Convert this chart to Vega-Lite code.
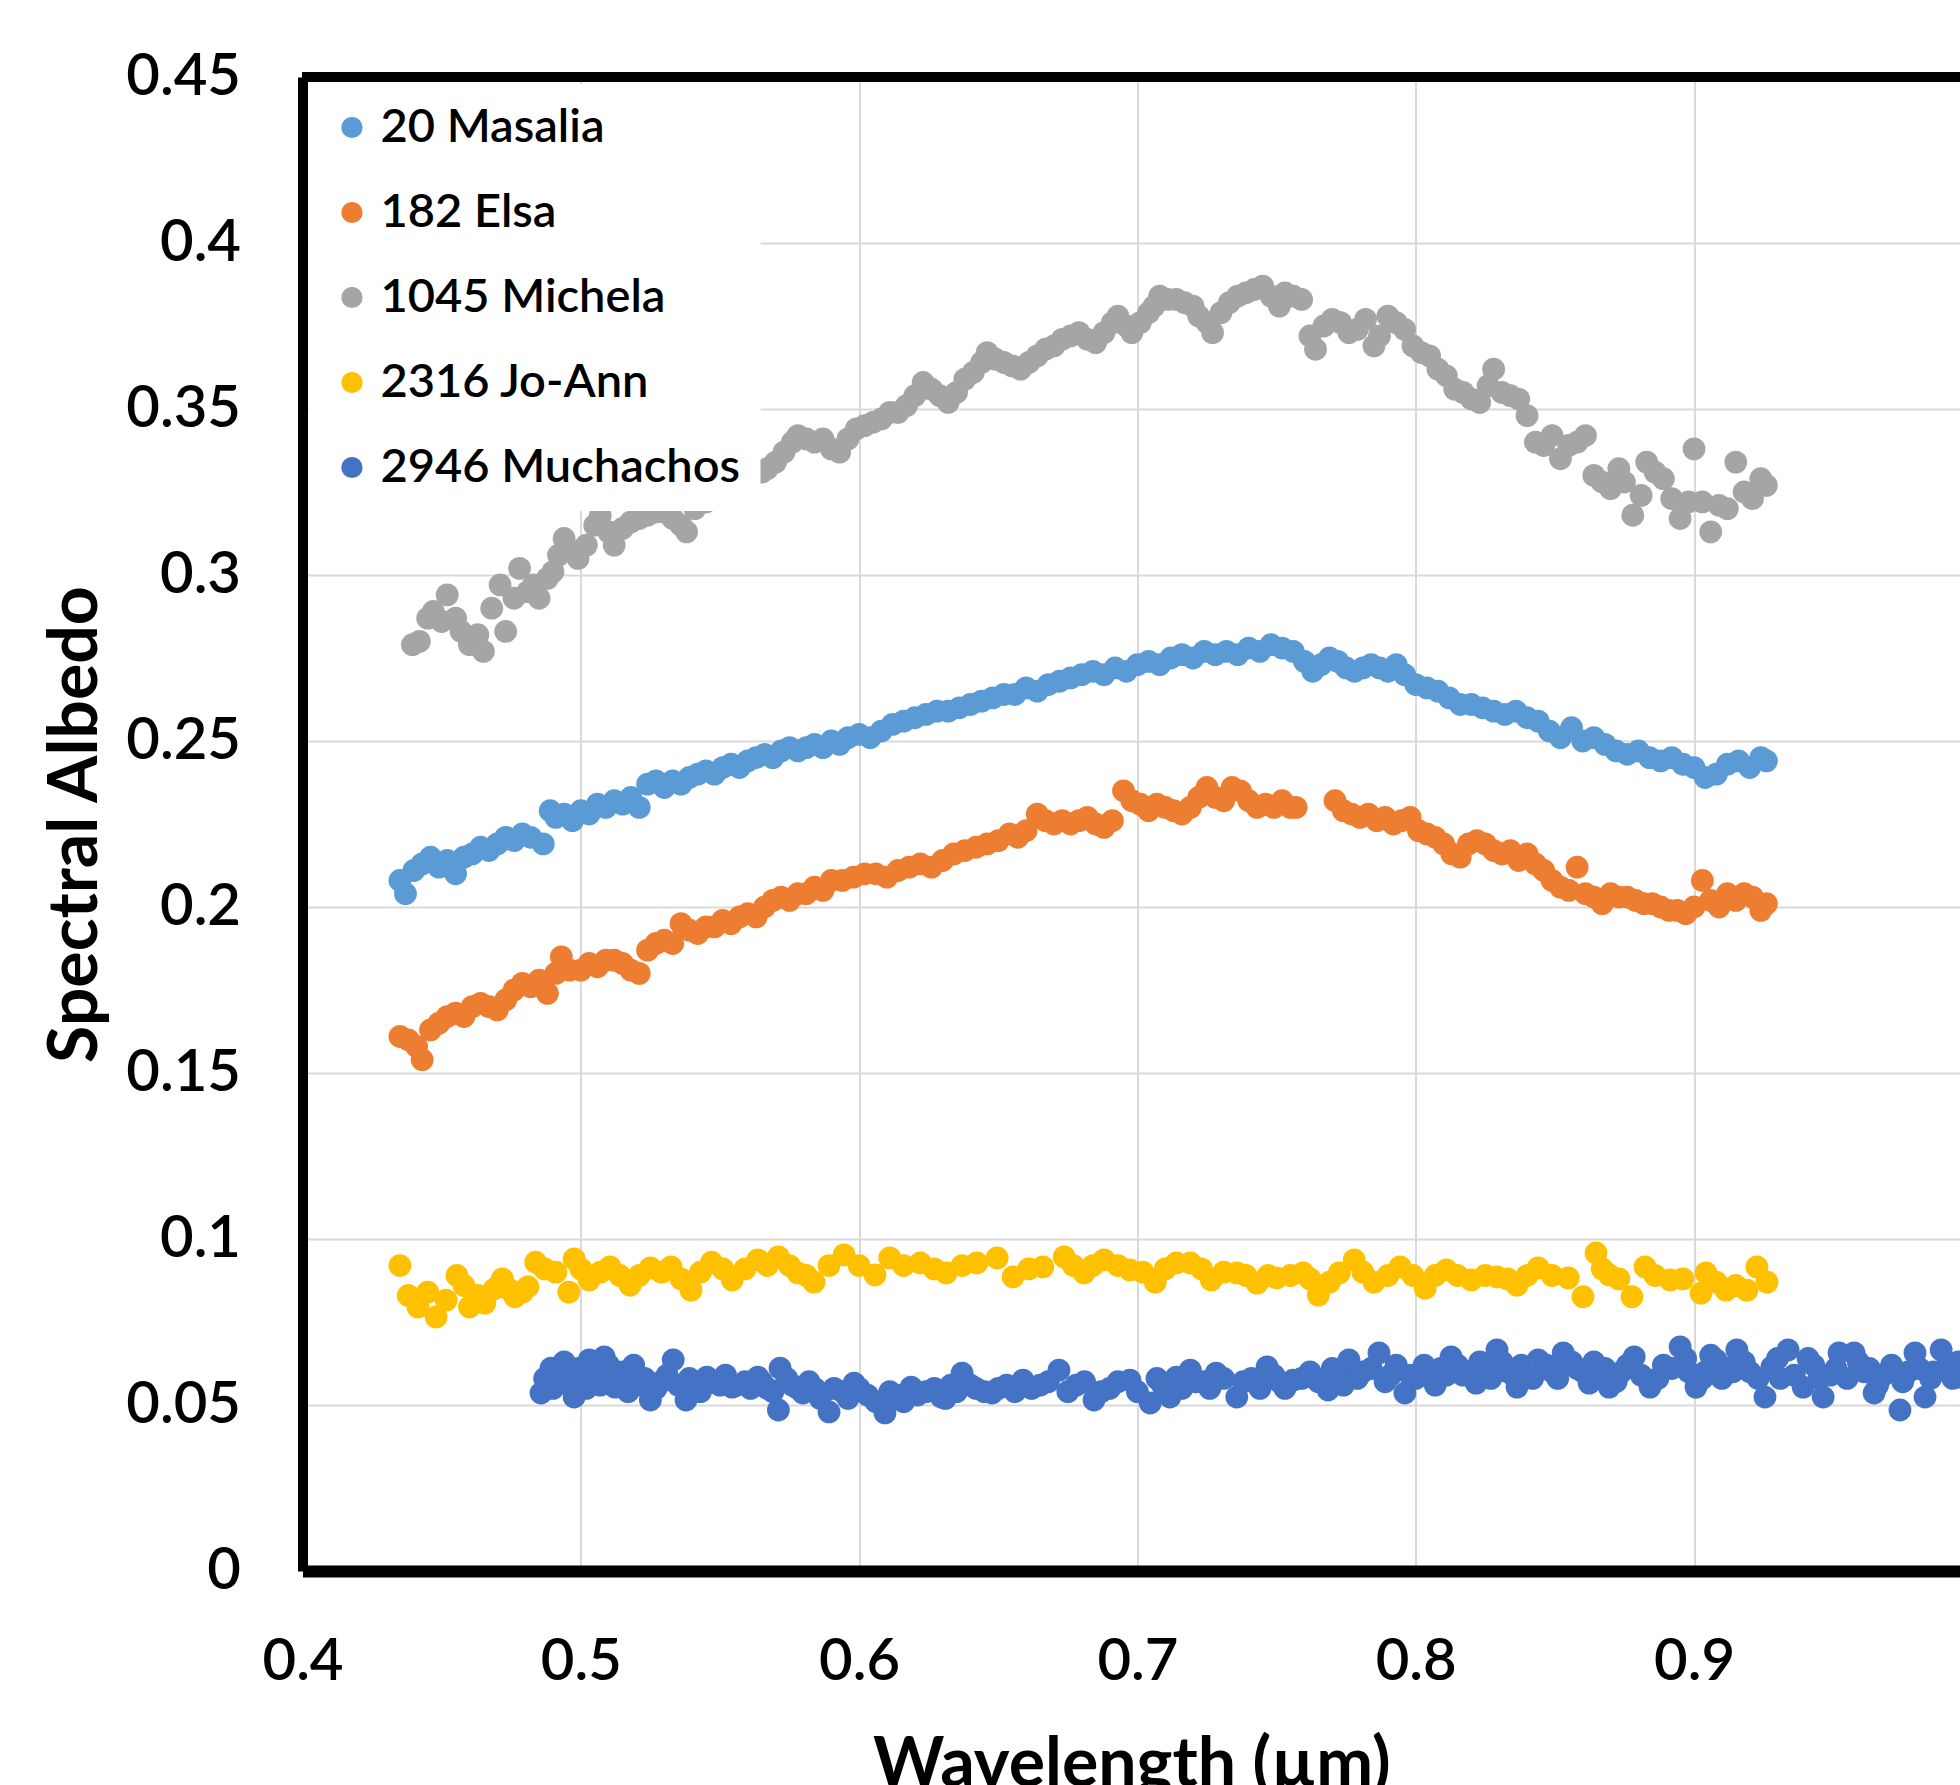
{
  "$schema": "https://vega.github.io/schema/vega-lite/v6.json",
  "autosize": {"type": "none"},
  "padding": {"left": 302.5, "top": 77, "right": 0, "bottom": 214},
  "width": 1657.5,
  "height": 1494,
  "background": "white",
  "data": {"values": [
{"s":"20 Masalia","x":0.435,"y":0.208},{"s":"20 Masalia","x":0.437,"y":0.204},{"s":"20 Masalia","x":0.440,"y":0.211},{"s":"20 Masalia","x":0.443,"y":0.213},{"s":"20 Masalia","x":0.446,"y":0.215},{"s":"20 Masalia","x":0.449,"y":0.212},{"s":"20 Masalia","x":0.452,"y":0.214},{"s":"20 Masalia","x":0.455,"y":0.210},{"s":"20 Masalia","x":0.458,"y":0.215},{"s":"20 Masalia","x":0.461,"y":0.216},{"s":"20 Masalia","x":0.464,"y":0.218},{"s":"20 Masalia","x":0.467,"y":0.217},{"s":"20 Masalia","x":0.470,"y":0.219},{"s":"20 Masalia","x":0.473,"y":0.221},{"s":"20 Masalia","x":0.476,"y":0.220},{"s":"20 Masalia","x":0.479,"y":0.222},{"s":"20 Masalia","x":0.482,"y":0.221},{"s":"20 Masalia","x":0.4865,"y":0.219},{"s":"20 Masalia","x":0.489,"y":0.229},{"s":"20 Masalia","x":0.491,"y":0.227},{"s":"20 Masalia","x":0.494,"y":0.228},{"s":"20 Masalia","x":0.497,"y":0.226},{"s":"20 Masalia","x":0.500,"y":0.229},{"s":"20 Masalia","x":0.503,"y":0.228},{"s":"20 Masalia","x":0.506,"y":0.231},{"s":"20 Masalia","x":0.509,"y":0.230},{"s":"20 Masalia","x":0.512,"y":0.232},{"s":"20 Masalia","x":0.515,"y":0.231},{"s":"20 Masalia","x":0.518,"y":0.233},{"s":"20 Masalia","x":0.521,"y":0.230},{"s":"20 Masalia","x":0.524,"y":0.237},{"s":"20 Masalia","x":0.527,"y":0.238},{"s":"20 Masalia","x":0.530,"y":0.236},{"s":"20 Masalia","x":0.533,"y":0.238},{"s":"20 Masalia","x":0.536,"y":0.237},{"s":"20 Masalia","x":0.539,"y":0.239},{"s":"20 Masalia","x":0.542,"y":0.240},{"s":"20 Masalia","x":0.545,"y":0.241},{"s":"20 Masalia","x":0.548,"y":0.240},{"s":"20 Masalia","x":0.551,"y":0.242},{"s":"20 Masalia","x":0.554,"y":0.243},{"s":"20 Masalia","x":0.557,"y":0.242},{"s":"20 Masalia","x":0.560,"y":0.244},{"s":"20 Masalia","x":0.563,"y":0.245},{"s":"20 Masalia","x":0.566,"y":0.246},{"s":"20 Masalia","x":0.569,"y":0.245},{"s":"20 Masalia","x":0.572,"y":0.247},{"s":"20 Masalia","x":0.575,"y":0.248},{"s":"20 Masalia","x":0.578,"y":0.247},{"s":"20 Masalia","x":0.581,"y":0.248},{"s":"20 Masalia","x":0.584,"y":0.249},{"s":"20 Masalia","x":0.587,"y":0.248},{"s":"20 Masalia","x":0.590,"y":0.250},{"s":"20 Masalia","x":0.593,"y":0.249},{"s":"20 Masalia","x":0.596,"y":0.251},{"s":"20 Masalia","x":0.600,"y":0.252},{"s":"20 Masalia","x":0.604,"y":0.251},{"s":"20 Masalia","x":0.608,"y":0.253},{"s":"20 Masalia","x":0.612,"y":0.255},{"s":"20 Masalia","x":0.616,"y":0.256},{"s":"20 Masalia","x":0.620,"y":0.257},{"s":"20 Masalia","x":0.624,"y":0.258},{"s":"20 Masalia","x":0.628,"y":0.259},{"s":"20 Masalia","x":0.632,"y":0.259},{"s":"20 Masalia","x":0.636,"y":0.260},{"s":"20 Masalia","x":0.640,"y":0.261},{"s":"20 Masalia","x":0.644,"y":0.262},{"s":"20 Masalia","x":0.648,"y":0.263},{"s":"20 Masalia","x":0.652,"y":0.264},{"s":"20 Masalia","x":0.656,"y":0.264},{"s":"20 Masalia","x":0.660,"y":0.266},{"s":"20 Masalia","x":0.664,"y":0.265},{"s":"20 Masalia","x":0.668,"y":0.267},{"s":"20 Masalia","x":0.672,"y":0.268},{"s":"20 Masalia","x":0.676,"y":0.269},{"s":"20 Masalia","x":0.680,"y":0.270},{"s":"20 Masalia","x":0.684,"y":0.271},{"s":"20 Masalia","x":0.688,"y":0.270},{"s":"20 Masalia","x":0.692,"y":0.272},{"s":"20 Masalia","x":0.696,"y":0.271},{"s":"20 Masalia","x":0.700,"y":0.273},{"s":"20 Masalia","x":0.704,"y":0.274},{"s":"20 Masalia","x":0.708,"y":0.273},{"s":"20 Masalia","x":0.712,"y":0.275},{"s":"20 Masalia","x":0.716,"y":0.276},{"s":"20 Masalia","x":0.720,"y":0.275},{"s":"20 Masalia","x":0.724,"y":0.277},{"s":"20 Masalia","x":0.728,"y":0.276},{"s":"20 Masalia","x":0.732,"y":0.277},{"s":"20 Masalia","x":0.736,"y":0.276},{"s":"20 Masalia","x":0.740,"y":0.278},{"s":"20 Masalia","x":0.744,"y":0.277},{"s":"20 Masalia","x":0.748,"y":0.279},{"s":"20 Masalia","x":0.752,"y":0.278},{"s":"20 Masalia","x":0.756,"y":0.277},{"s":"20 Masalia","x":0.760,"y":0.274},{"s":"20 Masalia","x":0.763,"y":0.271},{"s":"20 Masalia","x":0.766,"y":0.273},{"s":"20 Masalia","x":0.769,"y":0.275},{"s":"20 Masalia","x":0.772,"y":0.274},{"s":"20 Masalia","x":0.775,"y":0.272},{"s":"20 Masalia","x":0.778,"y":0.271},{"s":"20 Masalia","x":0.781,"y":0.272},{"s":"20 Masalia","x":0.784,"y":0.273},{"s":"20 Masalia","x":0.787,"y":0.272},{"s":"20 Masalia","x":0.790,"y":0.271},{"s":"20 Masalia","x":0.793,"y":0.273},{"s":"20 Masalia","x":0.796,"y":0.270},{"s":"20 Masalia","x":0.800,"y":0.267},{"s":"20 Masalia","x":0.804,"y":0.266},{"s":"20 Masalia","x":0.808,"y":0.265},{"s":"20 Masalia","x":0.812,"y":0.263},{"s":"20 Masalia","x":0.816,"y":0.261},{"s":"20 Masalia","x":0.820,"y":0.261},{"s":"20 Masalia","x":0.824,"y":0.260},{"s":"20 Masalia","x":0.828,"y":0.259},{"s":"20 Masalia","x":0.832,"y":0.258},{"s":"20 Masalia","x":0.836,"y":0.259},{"s":"20 Masalia","x":0.840,"y":0.257},{"s":"20 Masalia","x":0.844,"y":0.256},{"s":"20 Masalia","x":0.848,"y":0.253},{"s":"20 Masalia","x":0.852,"y":0.251},{"s":"20 Masalia","x":0.856,"y":0.254},{"s":"20 Masalia","x":0.860,"y":0.250},{"s":"20 Masalia","x":0.864,"y":0.251},{"s":"20 Masalia","x":0.868,"y":0.249},{"s":"20 Masalia","x":0.872,"y":0.247},{"s":"20 Masalia","x":0.876,"y":0.246},{"s":"20 Masalia","x":0.880,"y":0.247},{"s":"20 Masalia","x":0.884,"y":0.245},{"s":"20 Masalia","x":0.888,"y":0.244},{"s":"20 Masalia","x":0.892,"y":0.245},{"s":"20 Masalia","x":0.896,"y":0.243},{"s":"20 Masalia","x":0.900,"y":0.242},{"s":"20 Masalia","x":0.904,"y":0.239},{"s":"20 Masalia","x":0.908,"y":0.240},{"s":"20 Masalia","x":0.912,"y":0.243},{"s":"20 Masalia","x":0.916,"y":0.244},{"s":"20 Masalia","x":0.920,"y":0.242},{"s":"20 Masalia","x":0.924,"y":0.245},{"s":"20 Masalia","x":0.926,"y":0.244},
{"s":"182 Elsa","x":0.435,"y":0.161},{"s":"182 Elsa","x":0.438,"y":0.160},{"s":"182 Elsa","x":0.441,"y":0.158},{"s":"182 Elsa","x":0.443,"y":0.154},{"s":"182 Elsa","x":0.446,"y":0.163},{"s":"182 Elsa","x":0.449,"y":0.165},{"s":"182 Elsa","x":0.452,"y":0.167},{"s":"182 Elsa","x":0.455,"y":0.168},{"s":"182 Elsa","x":0.458,"y":0.167},{"s":"182 Elsa","x":0.461,"y":0.170},{"s":"182 Elsa","x":0.464,"y":0.171},{"s":"182 Elsa","x":0.467,"y":0.170},{"s":"182 Elsa","x":0.470,"y":0.169},{"s":"182 Elsa","x":0.473,"y":0.172},{"s":"182 Elsa","x":0.476,"y":0.175},{"s":"182 Elsa","x":0.479,"y":0.177},{"s":"182 Elsa","x":0.482,"y":0.176},{"s":"182 Elsa","x":0.485,"y":0.178},{"s":"182 Elsa","x":0.488,"y":0.174},{"s":"182 Elsa","x":0.491,"y":0.180},{"s":"182 Elsa","x":0.493,"y":0.185},{"s":"182 Elsa","x":0.496,"y":0.181},{"s":"182 Elsa","x":0.500,"y":0.181},{"s":"182 Elsa","x":0.503,"y":0.183},{"s":"182 Elsa","x":0.506,"y":0.182},{"s":"182 Elsa","x":0.509,"y":0.184},{"s":"182 Elsa","x":0.512,"y":0.184},{"s":"182 Elsa","x":0.515,"y":0.183},{"s":"182 Elsa","x":0.518,"y":0.181},{"s":"182 Elsa","x":0.521,"y":0.180},{"s":"182 Elsa","x":0.524,"y":0.187},{"s":"182 Elsa","x":0.527,"y":0.189},{"s":"182 Elsa","x":0.530,"y":0.190},{"s":"182 Elsa","x":0.533,"y":0.189},{"s":"182 Elsa","x":0.536,"y":0.195},{"s":"182 Elsa","x":0.539,"y":0.193},{"s":"182 Elsa","x":0.542,"y":0.192},{"s":"182 Elsa","x":0.545,"y":0.194},{"s":"182 Elsa","x":0.548,"y":0.194},{"s":"182 Elsa","x":0.551,"y":0.196},{"s":"182 Elsa","x":0.554,"y":0.195},{"s":"182 Elsa","x":0.557,"y":0.197},{"s":"182 Elsa","x":0.560,"y":0.198},{"s":"182 Elsa","x":0.563,"y":0.197},{"s":"182 Elsa","x":0.566,"y":0.200},{"s":"182 Elsa","x":0.569,"y":0.202},{"s":"182 Elsa","x":0.572,"y":0.203},{"s":"182 Elsa","x":0.575,"y":0.202},{"s":"182 Elsa","x":0.578,"y":0.204},{"s":"182 Elsa","x":0.581,"y":0.204},{"s":"182 Elsa","x":0.584,"y":0.206},{"s":"182 Elsa","x":0.587,"y":0.205},{"s":"182 Elsa","x":0.590,"y":0.208},{"s":"182 Elsa","x":0.594,"y":0.208},{"s":"182 Elsa","x":0.598,"y":0.209},{"s":"182 Elsa","x":0.602,"y":0.210},{"s":"182 Elsa","x":0.606,"y":0.210},{"s":"182 Elsa","x":0.610,"y":0.209},{"s":"182 Elsa","x":0.614,"y":0.211},{"s":"182 Elsa","x":0.618,"y":0.212},{"s":"182 Elsa","x":0.622,"y":0.213},{"s":"182 Elsa","x":0.626,"y":0.212},{"s":"182 Elsa","x":0.630,"y":0.214},{"s":"182 Elsa","x":0.634,"y":0.216},{"s":"182 Elsa","x":0.638,"y":0.217},{"s":"182 Elsa","x":0.642,"y":0.218},{"s":"182 Elsa","x":0.646,"y":0.219},{"s":"182 Elsa","x":0.650,"y":0.220},{"s":"182 Elsa","x":0.654,"y":0.222},{"s":"182 Elsa","x":0.657,"y":0.221},{"s":"182 Elsa","x":0.660,"y":0.223},{"s":"182 Elsa","x":0.664,"y":0.228},{"s":"182 Elsa","x":0.667,"y":0.226},{"s":"182 Elsa","x":0.670,"y":0.225},{"s":"182 Elsa","x":0.673,"y":0.226},{"s":"182 Elsa","x":0.676,"y":0.225},{"s":"182 Elsa","x":0.679,"y":0.226},{"s":"182 Elsa","x":0.682,"y":0.227},{"s":"182 Elsa","x":0.685,"y":0.225},{"s":"182 Elsa","x":0.688,"y":0.224},{"s":"182 Elsa","x":0.691,"y":0.226},{"s":"182 Elsa","x":0.695,"y":0.235},{"s":"182 Elsa","x":0.698,"y":0.232},{"s":"182 Elsa","x":0.701,"y":0.231},{"s":"182 Elsa","x":0.704,"y":0.229},{"s":"182 Elsa","x":0.707,"y":0.231},{"s":"182 Elsa","x":0.710,"y":0.230},{"s":"182 Elsa","x":0.713,"y":0.229},{"s":"182 Elsa","x":0.716,"y":0.228},{"s":"182 Elsa","x":0.719,"y":0.230},{"s":"182 Elsa","x":0.722,"y":0.233},{"s":"182 Elsa","x":0.725,"y":0.236},{"s":"182 Elsa","x":0.728,"y":0.233},{"s":"182 Elsa","x":0.731,"y":0.232},{"s":"182 Elsa","x":0.734,"y":0.236},{"s":"182 Elsa","x":0.737,"y":0.235},{"s":"182 Elsa","x":0.740,"y":0.232},{"s":"182 Elsa","x":0.743,"y":0.230},{"s":"182 Elsa","x":0.746,"y":0.231},{"s":"182 Elsa","x":0.749,"y":0.230},{"s":"182 Elsa","x":0.752,"y":0.232},{"s":"182 Elsa","x":0.755,"y":0.230},{"s":"182 Elsa","x":0.757,"y":0.230},{"s":"182 Elsa","x":0.771,"y":0.232},{"s":"182 Elsa","x":0.774,"y":0.229},{"s":"182 Elsa","x":0.777,"y":0.228},{"s":"182 Elsa","x":0.780,"y":0.227},{"s":"182 Elsa","x":0.783,"y":0.228},{"s":"182 Elsa","x":0.786,"y":0.226},{"s":"182 Elsa","x":0.789,"y":0.227},{"s":"182 Elsa","x":0.792,"y":0.225},{"s":"182 Elsa","x":0.795,"y":0.226},{"s":"182 Elsa","x":0.798,"y":0.227},{"s":"182 Elsa","x":0.801,"y":0.223},{"s":"182 Elsa","x":0.804,"y":0.222},{"s":"182 Elsa","x":0.807,"y":0.221},{"s":"182 Elsa","x":0.810,"y":0.219},{"s":"182 Elsa","x":0.813,"y":0.216},{"s":"182 Elsa","x":0.816,"y":0.215},{"s":"182 Elsa","x":0.819,"y":0.219},{"s":"182 Elsa","x":0.822,"y":0.220},{"s":"182 Elsa","x":0.825,"y":0.219},{"s":"182 Elsa","x":0.828,"y":0.217},{"s":"182 Elsa","x":0.831,"y":0.216},{"s":"182 Elsa","x":0.834,"y":0.217},{"s":"182 Elsa","x":0.837,"y":0.214},{"s":"182 Elsa","x":0.840,"y":0.216},{"s":"182 Elsa","x":0.843,"y":0.213},{"s":"182 Elsa","x":0.846,"y":0.211},{"s":"182 Elsa","x":0.849,"y":0.208},{"s":"182 Elsa","x":0.852,"y":0.206},{"s":"182 Elsa","x":0.855,"y":0.205},{"s":"182 Elsa","x":0.858,"y":0.212},{"s":"182 Elsa","x":0.861,"y":0.204},{"s":"182 Elsa","x":0.864,"y":0.203},{"s":"182 Elsa","x":0.867,"y":0.201},{"s":"182 Elsa","x":0.870,"y":0.204},{"s":"182 Elsa","x":0.873,"y":0.203},{"s":"182 Elsa","x":0.876,"y":0.203},{"s":"182 Elsa","x":0.879,"y":0.202},{"s":"182 Elsa","x":0.882,"y":0.201},{"s":"182 Elsa","x":0.885,"y":0.201},{"s":"182 Elsa","x":0.888,"y":0.200},{"s":"182 Elsa","x":0.891,"y":0.199},{"s":"182 Elsa","x":0.894,"y":0.199},{"s":"182 Elsa","x":0.897,"y":0.198},{"s":"182 Elsa","x":0.900,"y":0.200},{"s":"182 Elsa","x":0.903,"y":0.208},{"s":"182 Elsa","x":0.906,"y":0.202},{"s":"182 Elsa","x":0.909,"y":0.200},{"s":"182 Elsa","x":0.912,"y":0.204},{"s":"182 Elsa","x":0.915,"y":0.202},{"s":"182 Elsa","x":0.918,"y":0.204},{"s":"182 Elsa","x":0.921,"y":0.203},{"s":"182 Elsa","x":0.924,"y":0.199},{"s":"182 Elsa","x":0.926,"y":0.201},
{"s":"1045 Michela","x":0.4395,"y":0.279},{"s":"1045 Michela","x":0.442,"y":0.280},{"s":"1045 Michela","x":0.445,"y":0.287},{"s":"1045 Michela","x":0.447,"y":0.289},{"s":"1045 Michela","x":0.450,"y":0.286},{"s":"1045 Michela","x":0.452,"y":0.294},{"s":"1045 Michela","x":0.455,"y":0.287},{"s":"1045 Michela","x":0.457,"y":0.283},{"s":"1045 Michela","x":0.460,"y":0.279},{"s":"1045 Michela","x":0.463,"y":0.282},{"s":"1045 Michela","x":0.465,"y":0.277},{"s":"1045 Michela","x":0.468,"y":0.290},{"s":"1045 Michela","x":0.471,"y":0.297},{"s":"1045 Michela","x":0.473,"y":0.283},{"s":"1045 Michela","x":0.476,"y":0.293},{"s":"1045 Michela","x":0.478,"y":0.302},{"s":"1045 Michela","x":0.481,"y":0.295},{"s":"1045 Michela","x":0.483,"y":0.297},{"s":"1045 Michela","x":0.485,"y":0.293},{"s":"1045 Michela","x":0.488,"y":0.299},{"s":"1045 Michela","x":0.490,"y":0.301},{"s":"1045 Michela","x":0.492,"y":0.306},{"s":"1045 Michela","x":0.494,"y":0.311},{"s":"1045 Michela","x":0.497,"y":0.307},{"s":"1045 Michela","x":0.499,"y":0.305},{"s":"1045 Michela","x":0.502,"y":0.309},{"s":"1045 Michela","x":0.505,"y":0.315},{"s":"1045 Michela","x":0.507,"y":0.318},{"s":"1045 Michela","x":0.510,"y":0.313},{"s":"1045 Michela","x":0.512,"y":0.309},{"s":"1045 Michela","x":0.515,"y":0.314},{"s":"1045 Michela","x":0.518,"y":0.316},{"s":"1045 Michela","x":0.521,"y":0.317},{"s":"1045 Michela","x":0.524,"y":0.318},{"s":"1045 Michela","x":0.527,"y":0.319},{"s":"1045 Michela","x":0.530,"y":0.319},{"s":"1045 Michela","x":0.533,"y":0.317},{"s":"1045 Michela","x":0.536,"y":0.315},{"s":"1045 Michela","x":0.538,"y":0.313},{"s":"1045 Michela","x":0.541,"y":0.320},{"s":"1045 Michela","x":0.545,"y":0.322},{"s":"1045 Michela","x":0.549,"y":0.324},{"s":"1045 Michela","x":0.553,"y":0.326},{"s":"1045 Michela","x":0.557,"y":0.328},{"s":"1045 Michela","x":0.561,"y":0.330},{"s":"1045 Michela","x":0.565,"y":0.331},{"s":"1045 Michela","x":0.567,"y":0.332},{"s":"1045 Michela","x":0.570,"y":0.334},{"s":"1045 Michela","x":0.573,"y":0.337},{"s":"1045 Michela","x":0.576,"y":0.340},{"s":"1045 Michela","x":0.578,"y":0.342},{"s":"1045 Michela","x":0.581,"y":0.341},{"s":"1045 Michela","x":0.584,"y":0.340},{"s":"1045 Michela","x":0.587,"y":0.341},{"s":"1045 Michela","x":0.590,"y":0.338},{"s":"1045 Michela","x":0.593,"y":0.337},{"s":"1045 Michela","x":0.596,"y":0.341},{"s":"1045 Michela","x":0.599,"y":0.344},{"s":"1045 Michela","x":0.602,"y":0.345},{"s":"1045 Michela","x":0.605,"y":0.346},{"s":"1045 Michela","x":0.608,"y":0.347},{"s":"1045 Michela","x":0.611,"y":0.349},{"s":"1045 Michela","x":0.614,"y":0.349},{"s":"1045 Michela","x":0.617,"y":0.351},{"s":"1045 Michela","x":0.620,"y":0.354},{"s":"1045 Michela","x":0.623,"y":0.358},{"s":"1045 Michela","x":0.626,"y":0.356},{"s":"1045 Michela","x":0.629,"y":0.354},{"s":"1045 Michela","x":0.632,"y":0.352},{"s":"1045 Michela","x":0.635,"y":0.355},{"s":"1045 Michela","x":0.638,"y":0.359},{"s":"1045 Michela","x":0.641,"y":0.361},{"s":"1045 Michela","x":0.644,"y":0.364},{"s":"1045 Michela","x":0.646,"y":0.367},{"s":"1045 Michela","x":0.649,"y":0.365},{"s":"1045 Michela","x":0.652,"y":0.364},{"s":"1045 Michela","x":0.655,"y":0.363},{"s":"1045 Michela","x":0.658,"y":0.362},{"s":"1045 Michela","x":0.661,"y":0.364},{"s":"1045 Michela","x":0.664,"y":0.366},{"s":"1045 Michela","x":0.667,"y":0.368},{"s":"1045 Michela","x":0.670,"y":0.369},{"s":"1045 Michela","x":0.673,"y":0.371},{"s":"1045 Michela","x":0.676,"y":0.372},{"s":"1045 Michela","x":0.679,"y":0.373},{"s":"1045 Michela","x":0.682,"y":0.371},{"s":"1045 Michela","x":0.685,"y":0.370},{"s":"1045 Michela","x":0.688,"y":0.373},{"s":"1045 Michela","x":0.691,"y":0.376},{"s":"1045 Michela","x":0.693,"y":0.378},{"s":"1045 Michela","x":0.696,"y":0.375},{"s":"1045 Michela","x":0.698,"y":0.373},{"s":"1045 Michela","x":0.701,"y":0.376},{"s":"1045 Michela","x":0.704,"y":0.379},{"s":"1045 Michela","x":0.706,"y":0.381},{"s":"1045 Michela","x":0.708,"y":0.384},{"s":"1045 Michela","x":0.711,"y":0.383},{"s":"1045 Michela","x":0.714,"y":0.383},{"s":"1045 Michela","x":0.717,"y":0.382},{"s":"1045 Michela","x":0.720,"y":0.381},{"s":"1045 Michela","x":0.722,"y":0.378},{"s":"1045 Michela","x":0.725,"y":0.376},{"s":"1045 Michela","x":0.727,"y":0.373},{"s":"1045 Michela","x":0.730,"y":0.379},{"s":"1045 Michela","x":0.733,"y":0.382},{"s":"1045 Michela","x":0.736,"y":0.384},{"s":"1045 Michela","x":0.739,"y":0.385},{"s":"1045 Michela","x":0.742,"y":0.386},{"s":"1045 Michela","x":0.745,"y":0.387},{"s":"1045 Michela","x":0.748,"y":0.384},{"s":"1045 Michela","x":0.751,"y":0.381},{"s":"1045 Michela","x":0.753,"y":0.385},{"s":"1045 Michela","x":0.756,"y":0.384},{"s":"1045 Michela","x":0.759,"y":0.383},{"s":"1045 Michela","x":0.762,"y":0.372},{"s":"1045 Michela","x":0.764,"y":0.368},{"s":"1045 Michela","x":0.767,"y":0.375},{"s":"1045 Michela","x":0.770,"y":0.377},{"s":"1045 Michela","x":0.773,"y":0.376},{"s":"1045 Michela","x":0.776,"y":0.373},{"s":"1045 Michela","x":0.779,"y":0.374},{"s":"1045 Michela","x":0.782,"y":0.377},{"s":"1045 Michela","x":0.785,"y":0.369},{"s":"1045 Michela","x":0.787,"y":0.372},{"s":"1045 Michela","x":0.790,"y":0.378},{"s":"1045 Michela","x":0.793,"y":0.376},{"s":"1045 Michela","x":0.796,"y":0.374},{"s":"1045 Michela","x":0.799,"y":0.369},{"s":"1045 Michela","x":0.802,"y":0.367},{"s":"1045 Michela","x":0.805,"y":0.366},{"s":"1045 Michela","x":0.808,"y":0.362},{"s":"1045 Michela","x":0.811,"y":0.360},{"s":"1045 Michela","x":0.814,"y":0.356},{"s":"1045 Michela","x":0.817,"y":0.355},{"s":"1045 Michela","x":0.820,"y":0.353},{"s":"1045 Michela","x":0.823,"y":0.352},{"s":"1045 Michela","x":0.826,"y":0.357},{"s":"1045 Michela","x":0.828,"y":0.362},{"s":"1045 Michela","x":0.831,"y":0.355},{"s":"1045 Michela","x":0.834,"y":0.354},{"s":"1045 Michela","x":0.837,"y":0.353},{"s":"1045 Michela","x":0.840,"y":0.348},{"s":"1045 Michela","x":0.843,"y":0.340},{"s":"1045 Michela","x":0.846,"y":0.339},{"s":"1045 Michela","x":0.849,"y":0.342},{"s":"1045 Michela","x":0.852,"y":0.335},{"s":"1045 Michela","x":0.855,"y":0.339},{"s":"1045 Michela","x":0.858,"y":0.340},{"s":"1045 Michela","x":0.861,"y":0.342},{"s":"1045 Michela","x":0.864,"y":0.330},{"s":"1045 Michela","x":0.867,"y":0.328},{"s":"1045 Michela","x":0.870,"y":0.326},{"s":"1045 Michela","x":0.873,"y":0.332},{"s":"1045 Michela","x":0.875,"y":0.328},{"s":"1045 Michela","x":0.878,"y":0.318},{"s":"1045 Michela","x":0.881,"y":0.324},{"s":"1045 Michela","x":0.883,"y":0.334},{"s":"1045 Michela","x":0.886,"y":0.331},{"s":"1045 Michela","x":0.889,"y":0.329},{"s":"1045 Michela","x":0.892,"y":0.323},{"s":"1045 Michela","x":0.895,"y":0.317},{"s":"1045 Michela","x":0.898,"y":0.322},{"s":"1045 Michela","x":0.900,"y":0.338},{"s":"1045 Michela","x":0.903,"y":0.322},{"s":"1045 Michela","x":0.906,"y":0.313},{"s":"1045 Michela","x":0.909,"y":0.321},{"s":"1045 Michela","x":0.912,"y":0.320},{"s":"1045 Michela","x":0.915,"y":0.334},{"s":"1045 Michela","x":0.918,"y":0.325},{"s":"1045 Michela","x":0.921,"y":0.323},{"s":"1045 Michela","x":0.924,"y":0.329},{"s":"1045 Michela","x":0.926,"y":0.327},
{"s":"2316 Jo-Ann","x":0.435,"y":0.092},{"s":"2316 Jo-Ann","x":0.438,"y":0.083},{"s":"2316 Jo-Ann","x":0.4415,"y":0.0795},{"s":"2316 Jo-Ann","x":0.445,"y":0.084},{"s":"2316 Jo-Ann","x":0.448,"y":0.0765},{"s":"2316 Jo-Ann","x":0.4516,"y":0.0816},{"s":"2316 Jo-Ann","x":0.4555,"y":0.089},{"s":"2316 Jo-Ann","x":0.458,"y":0.086},{"s":"2316 Jo-Ann","x":0.460,"y":0.0795},{"s":"2316 Jo-Ann","x":0.463,"y":0.083},{"s":"2316 Jo-Ann","x":0.4655,"y":0.0807},{"s":"2316 Jo-Ann","x":0.469,"y":0.085},{"s":"2316 Jo-Ann","x":0.4718,"y":0.088},{"s":"2316 Jo-Ann","x":0.474,"y":0.085},{"s":"2316 Jo-Ann","x":0.4763,"y":0.0826},{"s":"2316 Jo-Ann","x":0.479,"y":0.084},{"s":"2316 Jo-Ann","x":0.481,"y":0.0856},{"s":"2316 Jo-Ann","x":0.4838,"y":0.093},{"s":"2316 Jo-Ann","x":0.487,"y":0.091},{"s":"2316 Jo-Ann","x":0.491,"y":0.090},{"s":"2316 Jo-Ann","x":0.4957,"y":0.084},{"s":"2316 Jo-Ann","x":0.4976,"y":0.094},{"s":"2316 Jo-Ann","x":0.500,"y":0.091},{"s":"2316 Jo-Ann","x":0.503,"y":0.0877},{"s":"2316 Jo-Ann","x":0.507,"y":0.090},{"s":"2316 Jo-Ann","x":0.5105,"y":0.0916},{"s":"2316 Jo-Ann","x":0.514,"y":0.089},{"s":"2316 Jo-Ann","x":0.5177,"y":0.0861},{"s":"2316 Jo-Ann","x":0.521,"y":0.089},{"s":"2316 Jo-Ann","x":0.525,"y":0.0913},{"s":"2316 Jo-Ann","x":0.529,"y":0.090},{"s":"2316 Jo-Ann","x":0.5324,"y":0.0916},{"s":"2316 Jo-Ann","x":0.536,"y":0.088},{"s":"2316 Jo-Ann","x":0.5396,"y":0.0846},{"s":"2316 Jo-Ann","x":0.543,"y":0.090},{"s":"2316 Jo-Ann","x":0.547,"y":0.093},{"s":"2316 Jo-Ann","x":0.551,"y":0.091},{"s":"2316 Jo-Ann","x":0.5544,"y":0.0877},{"s":"2316 Jo-Ann","x":0.559,"y":0.091},{"s":"2316 Jo-Ann","x":0.5636,"y":0.0937},{"s":"2316 Jo-Ann","x":0.567,"y":0.092},{"s":"2316 Jo-Ann","x":0.571,"y":0.0946},{"s":"2316 Jo-Ann","x":0.575,"y":0.092},{"s":"2316 Jo-Ann","x":0.578,"y":0.0898},{"s":"2316 Jo-Ann","x":0.581,"y":0.089},{"s":"2316 Jo-Ann","x":0.5838,"y":0.087},{"s":"2316 Jo-Ann","x":0.5892,"y":0.092},{"s":"2316 Jo-Ann","x":0.5946,"y":0.0952},{"s":"2316 Jo-Ann","x":0.600,"y":0.092},{"s":"2316 Jo-Ann","x":0.6057,"y":0.0892},{"s":"2316 Jo-Ann","x":0.611,"y":0.0943},{"s":"2316 Jo-Ann","x":0.616,"y":0.092},{"s":"2316 Jo-Ann","x":0.622,"y":0.0928},{"s":"2316 Jo-Ann","x":0.627,"y":0.091},{"s":"2316 Jo-Ann","x":0.6313,"y":0.0898},{"s":"2316 Jo-Ann","x":0.637,"y":0.092},{"s":"2316 Jo-Ann","x":0.6423,"y":0.0928},{"s":"2316 Jo-Ann","x":0.6496,"y":0.0943},{"s":"2316 Jo-Ann","x":0.6553,"y":0.0886},{"s":"2316 Jo-Ann","x":0.661,"y":0.091},{"s":"2316 Jo-Ann","x":0.666,"y":0.0916},{"s":"2316 Jo-Ann","x":0.6737,"y":0.0946},{"s":"2316 Jo-Ann","x":0.677,"y":0.092},{"s":"2316 Jo-Ann","x":0.6808,"y":0.0898},{"s":"2316 Jo-Ann","x":0.684,"y":0.092},{"s":"2316 Jo-Ann","x":0.688,"y":0.0937},{"s":"2316 Jo-Ann","x":0.693,"y":0.092},{"s":"2316 Jo-Ann","x":0.6973,"y":0.0907},{"s":"2316 Jo-Ann","x":0.702,"y":0.090},{"s":"2316 Jo-Ann","x":0.7064,"y":0.087},{"s":"2316 Jo-Ann","x":0.710,"y":0.091},{"s":"2316 Jo-Ann","x":0.714,"y":0.0928},{"s":"2316 Jo-Ann","x":0.719,"y":0.0928},{"s":"2316 Jo-Ann","x":0.723,"y":0.091},{"s":"2316 Jo-Ann","x":0.7265,"y":0.0877},{"s":"2316 Jo-Ann","x":0.731,"y":0.090},{"s":"2316 Jo-Ann","x":0.7357,"y":0.0898},{"s":"2316 Jo-Ann","x":0.739,"y":0.089},{"s":"2316 Jo-Ann","x":0.743,"y":0.0867},{"s":"2316 Jo-Ann","x":0.747,"y":0.089},{"s":"2316 Jo-Ann","x":0.750,"y":0.0883},{"s":"2316 Jo-Ann","x":0.755,"y":0.089},{"s":"2316 Jo-Ann","x":0.7595,"y":0.0898},{"s":"2316 Jo-Ann","x":0.762,"y":0.088},{"s":"2316 Jo-Ann","x":0.765,"y":0.0831},{"s":"2316 Jo-Ann","x":0.769,"y":0.087},{"s":"2316 Jo-Ann","x":0.7725,"y":0.0898},{"s":"2316 Jo-Ann","x":0.7779,"y":0.0937},{"s":"2316 Jo-Ann","x":0.781,"y":0.090},{"s":"2316 Jo-Ann","x":0.785,"y":0.087},{"s":"2316 Jo-Ann","x":0.790,"y":0.089},{"s":"2316 Jo-Ann","x":0.7944,"y":0.0916},{"s":"2316 Jo-Ann","x":0.799,"y":0.089},{"s":"2316 Jo-Ann","x":0.8034,"y":0.0852},{"s":"2316 Jo-Ann","x":0.807,"y":0.089},{"s":"2316 Jo-Ann","x":0.811,"y":0.0907},{"s":"2316 Jo-Ann","x":0.815,"y":0.089},{"s":"2316 Jo-Ann","x":0.820,"y":0.0877},{"s":"2316 Jo-Ann","x":0.825,"y":0.089},{"s":"2316 Jo-Ann","x":0.8292,"y":0.0886},{"s":"2316 Jo-Ann","x":0.833,"y":0.088},{"s":"2316 Jo-Ann","x":0.8364,"y":0.0861},{"s":"2316 Jo-Ann","x":0.840,"y":0.089},{"s":"2316 Jo-Ann","x":0.844,"y":0.0913},{"s":"2316 Jo-Ann","x":0.849,"y":0.089},{"s":"2316 Jo-Ann","x":0.8548,"y":0.0883},{"s":"2316 Jo-Ann","x":0.8601,"y":0.0826},{"s":"2316 Jo-Ann","x":0.8648,"y":0.0958},{"s":"2316 Jo-Ann","x":0.867,"y":0.091},{"s":"2316 Jo-Ann","x":0.8695,"y":0.0892},{"s":"2316 Jo-Ann","x":0.873,"y":0.088},{"s":"2316 Jo-Ann","x":0.8777,"y":0.0826},{"s":"2316 Jo-Ann","x":0.8824,"y":0.0916},{"s":"2316 Jo-Ann","x":0.886,"y":0.089},{"s":"2316 Jo-Ann","x":0.8914,"y":0.0877},{"s":"2316 Jo-Ann","x":0.896,"y":0.088},{"s":"2316 Jo-Ann","x":0.9025,"y":0.0837},{"s":"2316 Jo-Ann","x":0.9043,"y":0.0898},{"s":"2316 Jo-Ann","x":0.908,"y":0.087},{"s":"2316 Jo-Ann","x":0.9115,"y":0.0846},{"s":"2316 Jo-Ann","x":0.915,"y":0.086},{"s":"2316 Jo-Ann","x":0.919,"y":0.0846},{"s":"2316 Jo-Ann","x":0.9226,"y":0.0916},{"s":"2316 Jo-Ann","x":0.9262,"y":0.087},
{"s":"2946 Muchachos","x":0.4857,"y":0.0536},{"s":"2946 Muchachos","x":0.487,"y":0.058},{"s":"2946 Muchachos","x":0.4893,"y":0.0611},{"s":"2946 Muchachos","x":0.490,"y":0.055},{"s":"2946 Muchachos","x":0.492,"y":0.057},{"s":"2946 Muchachos","x":0.494,"y":0.063},{"s":"2946 Muchachos","x":0.495,"y":0.060},{"s":"2946 Muchachos","x":0.4965,"y":0.056},{"s":"2946 Muchachos","x":0.4976,"y":0.0524},{"s":"2946 Muchachos","x":0.499,"y":0.061},{"s":"2946 Muchachos","x":0.500,"y":0.058},{"s":"2946 Muchachos","x":0.502,"y":0.055},{"s":"2946 Muchachos","x":0.503,"y":0.0636},{"s":"2946 Muchachos","x":0.5045,"y":0.058},{"s":"2946 Muchachos","x":0.506,"y":0.061},{"s":"2946 Muchachos","x":0.507,"y":0.056},{"s":"2946 Muchachos","x":0.5084,"y":0.0645},{"s":"2946 Muchachos","x":0.510,"y":0.062},{"s":"2946 Muchachos","x":0.5123,"y":0.0554},{"s":"2946 Muchachos","x":0.5135,"y":0.058},{"s":"2946 Muchachos","x":0.515,"y":0.060},{"s":"2946 Muchachos","x":0.517,"y":0.054},{"s":"2946 Muchachos","x":0.5177,"y":0.0596},{"s":"2946 Muchachos","x":0.519,"y":0.062},{"s":"2946 Muchachos","x":0.521,"y":0.056},{"s":"2946 Muchachos","x":0.523,"y":0.058},{"s":"2946 Muchachos","x":0.525,"y":0.0515},{"s":"2946 Muchachos","x":0.527,"y":0.055},{"s":"2946 Muchachos","x":0.529,"y":0.057},{"s":"2946 Muchachos","x":0.531,"y":0.059},{"s":"2946 Muchachos","x":0.5332,"y":0.0636},{"s":"2946 Muchachos","x":0.535,"y":0.056},{"s":"2946 Muchachos","x":0.5378,"y":0.0515},{"s":"2946 Muchachos","x":0.539,"y":0.058},{"s":"2946 Muchachos","x":0.541,"y":0.057},{"s":"2946 Muchachos","x":0.543,"y":0.054},{"s":"2946 Muchachos","x":0.5453,"y":0.0584},{"s":"2946 Muchachos","x":0.547,"y":0.057},{"s":"2946 Muchachos","x":0.550,"y":0.056},{"s":"2946 Muchachos","x":0.552,"y":0.059},{"s":"2946 Muchachos","x":0.5544,"y":0.0554},{"s":"2946 Muchachos","x":0.556,"y":0.056},{"s":"2946 Muchachos","x":0.559,"y":0.057},{"s":"2946 Muchachos","x":0.561,"y":0.055},{"s":"2946 Muchachos","x":0.5636,"y":0.0584},{"s":"2946 Muchachos","x":0.565,"y":0.057},{"s":"2946 Muchachos","x":0.567,"y":0.055},{"s":"2946 Muchachos","x":0.569,"y":0.054},{"s":"2946 Muchachos","x":0.571,"y":0.0485},{"s":"2946 Muchachos","x":0.5716,"y":0.0611},{"s":"2946 Muchachos","x":0.574,"y":0.058},{"s":"2946 Muchachos","x":0.576,"y":0.056},{"s":"2946 Muchachos","x":0.578,"y":0.055},{"s":"2946 Muchachos","x":0.5798,"y":0.0536},{"s":"2946 Muchachos","x":0.582,"y":0.057},{"s":"2946 Muchachos","x":0.584,"y":0.055},{"s":"2946 Muchachos","x":0.586,"y":0.052},{"s":"2946 Muchachos","x":0.5892,"y":0.0479},{"s":"2946 Muchachos","x":0.591,"y":0.055},{"s":"2946 Muchachos","x":0.594,"y":0.054},{"s":"2946 Muchachos","x":0.596,"y":0.052},{"s":"2946 Muchachos","x":0.5982,"y":0.0566},{"s":"2946 Muchachos","x":0.600,"y":0.055},{"s":"2946 Muchachos","x":0.603,"y":0.053},{"s":"2946 Muchachos","x":0.606,"y":0.051},{"s":"2946 Muchachos","x":0.6093,"y":0.0476},{"s":"2946 Muchachos","x":0.611,"y":0.054},{"s":"2946 Muchachos","x":0.614,"y":0.053},{"s":"2946 Muchachos","x":0.616,"y":0.051},{"s":"2946 Muchachos","x":0.6187,"y":0.0554},{"s":"2946 Muchachos","x":0.621,"y":0.053},{"s":"2946 Muchachos","x":0.624,"y":0.054},{"s":"2946 Muchachos","x":0.627,"y":0.055},{"s":"2946 Muchachos","x":0.6295,"y":0.0524},{"s":"2946 Muchachos","x":0.631,"y":0.052},{"s":"2946 Muchachos","x":0.633,"y":0.056},{"s":"2946 Muchachos","x":0.635,"y":0.054},{"s":"2946 Muchachos","x":0.637,"y":0.0596},{"s":"2946 Muchachos","x":0.640,"y":0.056},{"s":"2946 Muchachos","x":0.642,"y":0.055},{"s":"2946 Muchachos","x":0.645,"y":0.054},{"s":"2946 Muchachos","x":0.6478,"y":0.0536},{"s":"2946 Muchachos","x":0.650,"y":0.055},{"s":"2946 Muchachos","x":0.653,"y":0.056},{"s":"2946 Muchachos","x":0.656,"y":0.054},{"s":"2946 Muchachos","x":0.6589,"y":0.0575},{"s":"2946 Muchachos","x":0.662,"y":0.055},{"s":"2946 Muchachos","x":0.665,"y":0.056},{"s":"2946 Muchachos","x":0.668,"y":0.057},{"s":"2946 Muchachos","x":0.6718,"y":0.0605},{"s":"2946 Muchachos","x":0.675,"y":0.054},{"s":"2946 Muchachos","x":0.678,"y":0.056},{"s":"2946 Muchachos","x":0.681,"y":0.057},{"s":"2946 Muchachos","x":0.6844,"y":0.0515},{"s":"2946 Muchachos","x":0.687,"y":0.054},{"s":"2946 Muchachos","x":0.690,"y":0.055},{"s":"2946 Muchachos","x":0.693,"y":0.057},{"s":"2946 Muchachos","x":0.6973,"y":0.0575},{"s":"2946 Muchachos","x":0.700,"y":0.054},{"s":"2946 Muchachos","x":0.7046,"y":0.0506},{"s":"2946 Muchachos","x":0.707,"y":0.058},{"s":"2946 Muchachos","x":0.709,"y":0.056},{"s":"2946 Muchachos","x":0.7117,"y":0.0524},{"s":"2946 Muchachos","x":0.714,"y":0.0584},{"s":"2946 Muchachos","x":0.716,"y":0.055},{"s":"2946 Muchachos","x":0.719,"y":0.0605},{"s":"2946 Muchachos","x":0.721,"y":0.057},{"s":"2946 Muchachos","x":0.724,"y":0.057},{"s":"2946 Muchachos","x":0.726,"y":0.055},{"s":"2946 Muchachos","x":0.7283,"y":0.0596},{"s":"2946 Muchachos","x":0.731,"y":0.058},{"s":"2946 Muchachos","x":0.7357,"y":0.0524},{"s":"2946 Muchachos","x":0.738,"y":0.057},{"s":"2946 Muchachos","x":0.741,"y":0.058},{"s":"2946 Muchachos","x":0.744,"y":0.055},{"s":"2946 Muchachos","x":0.7466,"y":0.0615},{"s":"2946 Muchachos","x":0.749,"y":0.059},{"s":"2946 Muchachos","x":0.751,"y":0.057},{"s":"2946 Muchachos","x":0.753,"y":0.055},{"s":"2946 Muchachos","x":0.7559,"y":0.0575},{"s":"2946 Muchachos","x":0.759,"y":0.058},{"s":"2946 Muchachos","x":0.762,"y":0.060},{"s":"2946 Muchachos","x":0.765,"y":0.057},{"s":"2946 Muchachos","x":0.7685,"y":0.0545},{"s":"2946 Muchachos","x":0.770,"y":0.061},{"s":"2946 Muchachos","x":0.772,"y":0.059},{"s":"2946 Muchachos","x":0.774,"y":0.056},{"s":"2946 Muchachos","x":0.776,"y":0.0636},{"s":"2946 Muchachos","x":0.779,"y":0.058},{"s":"2946 Muchachos","x":0.781,"y":0.060},{"s":"2946 Muchachos","x":0.784,"y":0.061},{"s":"2946 Muchachos","x":0.7868,"y":0.0657},{"s":"2946 Muchachos","x":0.789,"y":0.057},{"s":"2946 Muchachos","x":0.791,"y":0.059},{"s":"2946 Muchachos","x":0.793,"y":0.062},{"s":"2946 Muchachos","x":0.7961,"y":0.0536},{"s":"2946 Muchachos","x":0.798,"y":0.059},{"s":"2946 Muchachos","x":0.800,"y":0.058},{"s":"2946 Muchachos","x":0.803,"y":0.062},{"s":"2946 Muchachos","x":0.8052,"y":0.0584},{"s":"2946 Muchachos","x":0.807,"y":0.056},{"s":"2946 Muchachos","x":0.809,"y":0.061},{"s":"2946 Muchachos","x":0.811,"y":0.059},{"s":"2946 Muchachos","x":0.8127,"y":0.0645},{"s":"2946 Muchachos","x":0.815,"y":0.062},{"s":"2946 Muchachos","x":0.817,"y":0.059},{"s":"2946 Muchachos","x":0.819,"y":0.060},{"s":"2946 Muchachos","x":0.8217,"y":0.0566},{"s":"2946 Muchachos","x":0.823,"y":0.063},{"s":"2946 Muchachos","x":0.825,"y":0.061},{"s":"2946 Muchachos","x":0.827,"y":0.058},{"s":"2946 Muchachos","x":0.8292,"y":0.0666},{"s":"2946 Muchachos","x":0.831,"y":0.063},{"s":"2946 Muchachos","x":0.833,"y":0.060},{"s":"2946 Muchachos","x":0.835,"y":0.059},{"s":"2946 Muchachos","x":0.8364,"y":0.0554},{"s":"2946 Muchachos","x":0.838,"y":0.062},{"s":"2946 Muchachos","x":0.840,"y":0.061},{"s":"2946 Muchachos","x":0.842,"y":0.058},{"s":"2946 Muchachos","x":0.844,"y":0.0636},{"s":"2946 Muchachos","x":0.847,"y":0.062},{"s":"2946 Muchachos","x":0.849,"y":0.060},{"s":"2946 Muchachos","x":0.851,"y":0.058},{"s":"2946 Muchachos","x":0.853,"y":0.0657},{"s":"2946 Muchachos","x":0.856,"y":0.063},{"s":"2946 Muchachos","x":0.858,"y":0.061},{"s":"2946 Muchachos","x":0.860,"y":0.060},{"s":"2946 Muchachos","x":0.8623,"y":0.0566},{"s":"2946 Muchachos","x":0.864,"y":0.063},{"s":"2946 Muchachos","x":0.866,"y":0.060},{"s":"2946 Muchachos","x":0.868,"y":0.061},{"s":"2946 Muchachos","x":0.8695,"y":0.0554},{"s":"2946 Muchachos","x":0.872,"y":0.057},{"s":"2946 Muchachos","x":0.874,"y":0.060},{"s":"2946 Muchachos","x":0.876,"y":0.062},{"s":"2946 Muchachos","x":0.8785,"y":0.0645},{"s":"2946 Muchachos","x":0.881,"y":0.059},{"s":"2946 Muchachos","x":0.8842,"y":0.0554},{"s":"2946 Muchachos","x":0.887,"y":0.058},{"s":"2946 Muchachos","x":0.889,"y":0.062},{"s":"2946 Muchachos","x":0.892,"y":0.061},{"s":"2946 Muchachos","x":0.895,"y":0.0675},{"s":"2946 Muchachos","x":0.897,"y":0.064},{"s":"2946 Muchachos","x":0.898,"y":0.060},{"s":"2946 Muchachos","x":0.9007,"y":0.0554},{"s":"2946 Muchachos","x":0.903,"y":0.058},{"s":"2946 Muchachos","x":0.904,"y":0.060},{"s":"2946 Muchachos","x":0.906,"y":0.065},{"s":"2946 Muchachos","x":0.9079,"y":0.0636},{"s":"2946 Muchachos","x":0.910,"y":0.058},{"s":"2946 Muchachos","x":0.912,"y":0.061},{"s":"2946 Muchachos","x":0.914,"y":0.060},{"s":"2946 Muchachos","x":0.9154,"y":0.0666},{"s":"2946 Muchachos","x":0.918,"y":0.063},{"s":"2946 Muchachos","x":0.920,"y":0.060},{"s":"2946 Muchachos","x":0.923,"y":0.058},{"s":"2946 Muchachos","x":0.9255,"y":0.0524},{"s":"2946 Muchachos","x":0.928,"y":0.0615},{"s":"2946 Muchachos","x":0.930,"y":0.064},{"s":"2946 Muchachos","x":0.931,"y":0.058},{"s":"2946 Muchachos","x":0.9338,"y":0.0666},{"s":"2946 Muchachos","x":0.936,"y":0.059},{"s":"2946 Muchachos","x":0.9392,"y":0.0554},{"s":"2946 Muchachos","x":0.941,"y":0.064},{"s":"2946 Muchachos","x":0.943,"y":0.062},{"s":"2946 Muchachos","x":0.945,"y":0.058},{"s":"2946 Muchachos","x":0.9464,"y":0.0524},{"s":"2946 Muchachos","x":0.949,"y":0.059},{"s":"2946 Muchachos","x":0.951,"y":0.061},{"s":"2946 Muchachos","x":0.9521,"y":0.0657},{"s":"2946 Muchachos","x":0.955,"y":0.058},{"s":"2946 Muchachos","x":0.9575,"y":0.0657},{"s":"2946 Muchachos","x":0.959,"y":0.063},{"s":"2946 Muchachos","x":0.961,"y":0.060},{"s":"2946 Muchachos","x":0.963,"y":0.061},{"s":"2946 Muchachos","x":0.9647,"y":0.0536},{"s":"2946 Muchachos","x":0.966,"y":0.056},{"s":"2946 Muchachos","x":0.968,"y":0.059},{"s":"2946 Muchachos","x":0.971,"y":0.062},{"s":"2946 Muchachos","x":0.974,"y":0.0485},{"s":"2946 Muchachos","x":0.975,"y":0.057},{"s":"2946 Muchachos","x":0.977,"y":0.060},{"s":"2946 Muchachos","x":0.9794,"y":0.0657},{"s":"2946 Muchachos","x":0.981,"y":0.061},{"s":"2946 Muchachos","x":0.983,"y":0.0524},{"s":"2946 Muchachos","x":0.985,"y":0.058},{"s":"2946 Muchachos","x":0.986,"y":0.060},{"s":"2946 Muchachos","x":0.9888,"y":0.0666},{"s":"2946 Muchachos","x":0.991,"y":0.062},{"s":"2946 Muchachos","x":0.993,"y":0.058},{"s":"2946 Muchachos","x":0.995,"y":0.063},{"s":"2946 Muchachos","x":0.9956,"y":0.0584},{"s":"2946 Muchachos","x":0.998,"y":0.062}
  ]},
  "layer": [
    {
      "mark": {"type": "point", "filled": true, "opacity": 1, "size": 520, "clip": true},
      "encoding": {
        "x": {"field": "x", "type": "quantitative", "title": "Wavelength (µm)",
              "scale": {"domain": [0.4, 0.99557], "nice": false, "zero": false},
              "axis": {"values": [0.4, 0.5, 0.6, 0.7, 0.8, 0.9], "format": ".1f"}},
        "y": {"field": "y", "type": "quantitative", "title": "Spectral Albedo",
              "scale": {"domain": [0, 0.45], "nice": false},
              "axis": {"values": [0, 0.05, 0.1, 0.15, 0.2, 0.25, 0.3, 0.35, 0.4, 0.45], "format": "~g"}},
        "color": {"field": "s", "type": "nominal",
                  "scale": {"domain": ["20 Masalia", "182 Elsa", "1045 Michela", "2316 Jo-Ann", "2946 Muchachos"],
                            "range": ["#5B9BD5", "#ED7D31", "#A5A5A5", "#FFC000", "#4472C4"]},
                  "legend": {"orient": "none", "legendX": 6, "legendY": 7, "title": null,
                             "fillColor": "white", "padding": 20, "labelFontSize": 47, "labelFont": "Lato",
                             "labelFontWeight": 600,
                             "labelColor": "black", "symbolType": "circle", "symbolSize": 450,
                             "symbolStrokeWidth": 0, "symbolOpacity": 1, "rowPadding": 37, "labelOffset": 5,
                             "labelLimit": 1000}}
      }
    },
    {
      "mark": {"type": "rule", "color": "black", "strokeWidth": 9},
      "encoding": {"y": {"datum": 0.45, "type": "quantitative"}}
    }
  ],
  "config": {
    "font": "Lato",
    "view": {"stroke": null},
    "axis": {"grid": true, "gridColor": "#d9d9d9", "gridWidth": 2, "ticks": false, "tickSize": 0,
             "domainColor": "black", "labelColor": "black", "titleColor": "black",
             "labelFontSize": 58, "labelFontWeight": 600, "titleFontSize": 68, "titleFontWeight": "bold",
             "labelFont": "Lato", "titleFont": "Lato", "labelFlush": false, "labelOverlap": false},
    "axisX": {"domainWidth": 12, "labelPadding": 62, "titlePadding": 40},
    "axisY": {"domainWidth": 10, "labelPadding": 62, "titlePadding": 15}
  }
}
